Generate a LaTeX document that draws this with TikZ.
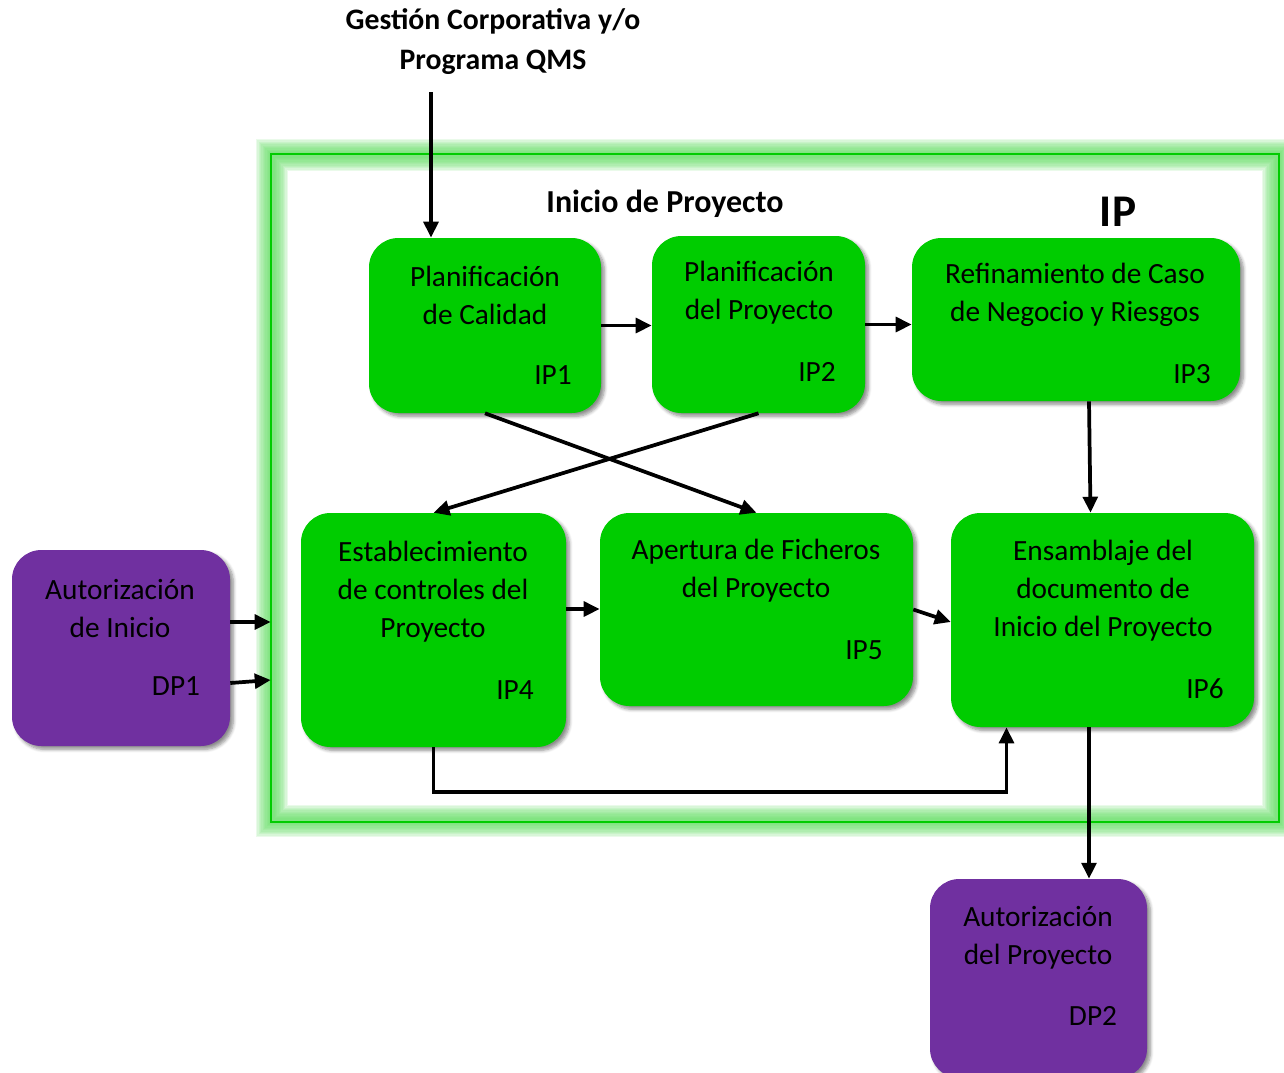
\documentclass[tikz,border=0pt]{standalone}
\usepackage{fontspec}
\setmainfont{Carlito}
\usetikzlibrary{arrows.meta,shadows,shadows.blur,fit,calc}
\definecolor{boxgreen}{RGB}{0,204,0}
\definecolor{boxpurple}{RGB}{112,48,160}
\definecolor{framegreen}{RGB}{0,204,0}
\definecolor{glowgreen}{RGB}{95,220,95}

\tikzset{
  x=0.75pt, y=-0.75pt,
  boxshadow/.style={blur shadow={shadow xshift=2.5pt, shadow yshift=-2.5pt, shadow blur steps=6, shadow blur radius=2.5pt, shadow opacity=45}},
  proc/.style={fill=boxgreen, rounded corners=22pt, inner sep=0pt, boxshadow},
  dproc/.style={fill=boxpurple, rounded corners=22pt, inner sep=0pt, boxshadow},
  txt/.style={align=center, font=\fontsize{22}{28.5}\selectfont, inner sep=0pt},
  tag/.style={font=\fontsize{22}{28.5}\selectfont, inner sep=0pt},
  head/.style={align=center, font=\bfseries\fontsize{22.3}{30}\selectfont, inner sep=0pt},
  flow/.style={line width=2.8pt, -{Triangle[length=12pt,width=11pt]}},
  glow/.style={glowgreen, line width=#1},
}

\begin{document}
\begin{tikzpicture}
  \useasboundingbox (0,0) rectangle (1284,1072);
  \clip (0,0) rectangle (1284,1072);

  % soft glow round the process frame, built from stacked translucent strokes
  \foreach \w in {4,6,...,24}
    \draw[glow=\w pt, opacity=.13] (272,155) rectangle (1278,821);
  \draw[framegreen, line width=1.6pt] (271,154) rectangle (1279,822);
  \node[fit={(271,154) (1279,822)}, inner sep=0pt] (frame) {};

  % headings
  \node[head] (qms) at (493,42) {Gestión Corporativa y/o\\Programa QMS};
  \coordinate (qmsend) at (431,92);
  \node[head, font=\bfseries\fontsize{24}{30}\selectfont] (title) at (665,204) {Inicio de Proyecto};
  \node[font=\bfseries\fontsize{34}{40}\selectfont, inner sep=0pt] (iptag) at (1118,212) {IP};

  % process boxes
  \node[proc, fit={(369,238) (601,413)}] (ip1) {};
  \node[proc, fit={(652,236) (865,413)}] (ip2) {};
  \node[proc, fit={(912,238) (1240,401)}] (ip3) {};
  \node[proc, fit={(301,513) (566,747)}] (ip4) {};
  \node[proc, fit={(600,513) (913,706)}] (ip5) {};
  \node[proc, fit={(951,513) (1254,727)}] (ip6) {};
  \node[dproc, fit={(12,550) (230,746)}] (dp1) {};
  \node[dproc, fit={(930,879) (1147,1078)}] (dp2) {};

  % box texts
  \node[txt] (ip1t) at (485,295) {Planificación\\de Calidad};
  \node[tag] (ip1n) at (553,375) {IP1};
  \node[txt] (ip2t) at (759,293) {Planificación\\del Proyecto};
  \node[tag] (ip2n) at (817,372) {IP2};
  \node[txt] (ip3t) at (1075,295) {Refinamiento de Caso\\de Negocio y Riesgos};
  \node[tag] (ip3n) at (1192,374) {IP3};
  \node[txt] (ip4t) at (433,592) {Establecimiento\\de controles del\\Proyecto};
  \node[tag] (ip4n) at (515,690) {IP4};
  \node[txt] (ip5t) at (756,571) {Apertura de Ficheros\\del Proyecto};
  \node[tag] (ip5n) at (864,650) {IP5};
  \node[txt] (ip6t) at (1103,591) {Ensamblaje del\\documento de\\Inicio del Proyecto};
  \node[tag] (ip6n) at (1205,689) {IP6};
  \node[txt] (dp1t) at (120,608) {Autorización\\de Inicio};
  \node[tag] (dp1n) at (176,686) {DP1};
  \node[txt] (dp2t) at (1038,938) {Autorización\\del Proyecto};
  \node[tag] (dp2n) at (1093,1016) {DP2};

  % connectors
  \draw[flow] (qmsend) -- (qmsend |- ip1.north);
  \draw[flow] (ip1.east) -- (ip1.east -| ip2.west);
  \draw[flow] (ip2.east) -- (ip2.east -| ip3.west);
  \draw[flow] ($(ip3.south)+(13,0)$) -- ($(ip6.north)+(-12,0)$);
  \draw[flow] (ip1.south) -- (ip5.north);
  \draw[flow] (ip2.south) -- (ip4.north);
  \draw[flow] ($(ip4.east)+(0,-21)$) -- ($(ip5.west)+(0,-0.5)$);
  \draw[flow] (ip5.east) -- ($(ip6.west)+(0,2)$);
  \draw[flow] (ip4.south) -- ++(0,45) -| ($(ip6.south)+(-96,0)$);
  \coordinate (ip6out) at ($(ip6.south)+(-13.5,0)$);
  \draw[flow] (ip6out) -- (ip6out |- dp2.north);
  \draw[flow] ($(dp1.east)+(0,-26)$) -- ($(frame.west)+(0,134)$);
  \draw[flow] ($(dp1.east)+(0,35)$) -- ($(frame.west)+(0,192)$);
\end{tikzpicture}
\end{document}
